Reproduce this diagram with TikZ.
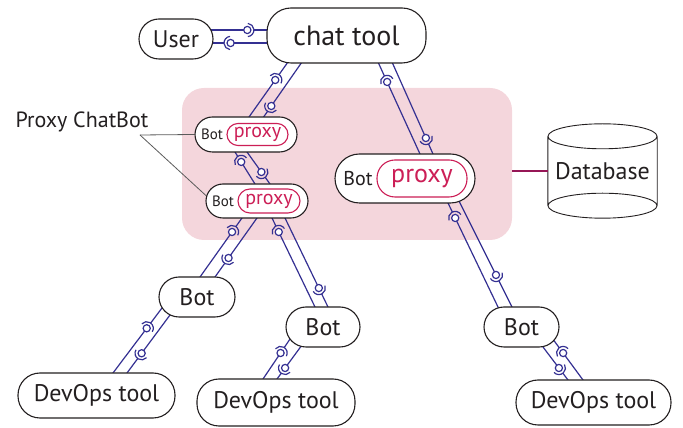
\documentclass[tikz,border=0pt]{standalone}
\usepackage{fontspec}
\setmainfont{PT Sans}
\usetikzlibrary{calc}

\definecolor{ink}{RGB}{35,31,32}
\definecolor{wirec}{RGB}{52,48,146}
\definecolor{zonepink}{RGB}{244,214,220}
\definecolor{proxyred}{RGB}{204,30,86}
\definecolor{dblink}{RGB}{150,22,86}
\definecolor{callout}{RGB}{90,90,90}

\pgfdeclarelayer{zone}
\pgfdeclarelayer{wires}
\pgfsetlayers{zone,wires,main}

\newcommand\ballr{3.6pt}
\newcommand\sockr{6.6pt}

% Ball-and-socket link: #1 socket end, #2 ball end,
% #3 position of the ball, measured from the socket end.
\newcommand\assembly[3]{%
  \coordinate (ws) at ($#1$);
  \coordinate (wb) at ($#2$);
  \coordinate (wc) at ($(ws)!#3!(wb)$);
  \draw[wire] ($(ws)!-4pt!(wb)$) -- ($(wc)!\sockr!(ws)$);
  \draw[wire] ($(wb)!-4pt!(ws)$) -- ($(wc)!\ballr!(wb)$);
  \draw[wire] let \p1=($(ws)-(wc)$), \n1={atan2(\y1,\x1)} in
    ([shift={(\n1-85:\sockr)}]wc) arc[start angle=\n1-85, end angle=\n1+85, radius=\sockr];
  \draw[wire, fill=white] (wc) circle[radius=\ballr];
}

\tikzset{
  box/.style={draw=ink, line width=1.1pt, fill=white, inner sep=0pt, text=ink,
    font=\fontsize{24}{28}\selectfont},
  pill/.style={box, rounded corners=#1},
  wire/.style={draw=wirec, line width=1.2pt},
  tag/.style={draw=proxyred, line width=1.1pt, text=proxyred, inner sep=0pt, rounded corners=#1},
  zonebox/.style={fill=zonepink, draw=none, rounded corners=22pt, minimum width=330pt, minimum height=152pt},
  lbl/.style={text=ink, inner sep=0pt},
}

\begin{document}
\begin{tikzpicture}[x=1pt, y=1pt]
\useasboundingbox (0,0) rectangle (683,428);

% shaded area holding the proxy bots
\begin{pgfonlayer}{zone}
  \node[zonebox] (zone) at (347,264) {};
\end{pgfonlayer}

% main nodes
\node[pill=20pt, minimum width=74pt, minimum height=40pt] (user) at (176,389) {User};
\node[pill=24pt, minimum width=159pt, minimum height=55pt, font=\fontsize{28}{32}\selectfont] (chat) at (346.5,392.5) {chat tool};

\node[pill=17.5pt, minimum width=102pt, minimum height=35pt] (prox1) at (246,293.5) {};
\node[lbl, font=\fontsize{15}{18}\selectfont] (prox1bot) at ($(prox1.center)+(-34,0)$) {Bot};
\node[tag=11pt, minimum width=61pt, minimum height=22pt, font=\fontsize{20}{24}\selectfont] (prox1tag) at ($(prox1.center)+(11.5,0)$) {proxy};

\node[pill=17pt, minimum width=102pt, minimum height=34pt] (prox2) at (257,227) {};
\node[lbl, font=\fontsize{15}{18}\selectfont] (prox2bot) at ($(prox2.center)+(-34,0)$) {Bot};
\node[tag=12pt, minimum width=62pt, minimum height=24pt, font=\fontsize{20}{24}\selectfont] (prox2tag) at ($(prox2.center)+(12,0)$) {proxy};

\node[pill=24.5pt, minimum width=140pt, minimum height=49pt] (prox3) at (405,249.5) {};
\node[lbl, font=\fontsize{20}{24}\selectfont] (prox3bot) at ($(prox3.center)+(-47,0)$) {Bot};
\node[tag=18pt, minimum width=90pt, minimum height=37pt, font=\fontsize{26}{30}\selectfont] (prox3tag) at ($(prox3.center)+(17,0)$) {proxy};

\node[pill=20pt, minimum width=76pt, minimum height=40pt] (botL) at (197,131) {Bot};
\node[pill=20pt, minimum width=74pt, minimum height=40pt] (botM) at (323,101) {Bot};
\node[pill=20pt, minimum width=75pt, minimum height=40pt] (botR) at (521.5,101) {Bot};

\node[pill=22pt, minimum width=157pt, minimum height=45pt] (devL) at (96.5,32.5) {DevOps tool};
\node[pill=22pt, minimum width=158pt, minimum height=47pt] (devM) at (276,25.5) {DevOps tool};
\node[pill=22pt, minimum width=155pt, minimum height=45pt] (devR) at (593.5,25.5) {DevOps tool};

% database cylinder
\node[lbl, minimum width=109pt, minimum height=94pt, font=\fontsize{24}{28}\selectfont] (db) at (602.5,257) {Database};
\draw[ink, line width=0.9pt]
  ($(db.north west)+(0,-12.5)$) -- ($(db.south west)+(0,12.5)$)
  ($(db.north east)+(0,-12.5)$) -- ($(db.south east)+(0,12.5)$)
  ($(db.north)+(0,-12.5)$) ellipse[x radius=54.5pt, y radius=12.5pt]
  ($(db.south)+(0,12.5)$) ellipse[x radius=54.5pt, y radius=12.5pt];
\draw[dblink, line width=1.5pt] (db.west) -- (db.west -| zone.east);

% callout
\node[lbl, font=\fontsize{22}{26}\selectfont] (callouttext) at (82,306) {Proxy ChatBot};
\coordinate (calloutfoot) at (140,293);

\begin{pgfonlayer}{wires}
  \draw[callout, line width=0.8pt] (calloutfoot) -- (prox1.west);
  \draw[callout, line width=0.8pt] (calloutfoot) -- ($(prox2.west)+(1,5)$);

  % user <-> chat tool
  \assembly{(chat.center)+(-78.5,5.5)}{(user.center)+(37,9)}{0.376}
  \assembly{(user.center)+(37,-4)}{(chat.center)+(-78.5,-7.5)}{0.32}
  % chat tool <-> upper proxy
  \assembly{(chat.center)+(-58.5,-26.5)}{(prox1.center)+(3,17.5)}{0.327}
  \assembly{(prox1.center)+(19,19.5)}{(chat.center)+(-44.5,-26.5)}{0.17}
  % upper proxy <-> lower proxy
  \assembly{(prox1.center)+(-11,-17.5)}{(prox2.center)+(-2,17)}{0.31}
  \assembly{(prox2.center)+(13,17)}{(prox1.center)+(1,-17.5)}{0.375}
  % lower proxy <-> left bot
  \assembly{(prox2.center)+(-15,-17)}{(botL.center)+(3,20)}{0.237}
  \assembly{(botL.center)+(18,20)}{(prox2.center)+(0,-17)}{0.322}
  % lower proxy <-> middle bot
  \assembly{(prox2.center)+(15,-17)}{(botM.center)+(-8,20)}{0.157}
  \assembly{(botM.center)+(5,20)}{(prox2.center)+(28,-17)}{0.213}
  % left bot <-> left tool
  \assembly{(botL.center)+(-35,-11)}{(devL.center)+(16.5,22.5)}{0.312}
  \assembly{(devL.center)+(30.5,22.5)}{(botL.center)+(-27,-18)}{0.34}
  % middle bot <-> middle tool
  \assembly{(botM.center)+(-35,-15)}{(devM.center)+(-13,23.5)}{0.297}
  \assembly{(devM.center)+(1,23.5)}{(botM.center)+(-21,-18)}{0.324}
  % chat tool <-> big proxy
  \assembly{(chat.center)+(31.5,-26.5)}{(prox3.center)+(15,24.5)}{0.217}
  \assembly{(prox3.center)+(28,24.5)}{(chat.center)+(45.5,-26.5)}{0.174}
  % big proxy <-> right bot
  \assembly{(prox3.center)+(43,-24.5)}{(botR.center)+(-23.5,20)}{0.144}
  \assembly{(botR.center)+(-9.5,20)}{(prox3.center)+(55,-24.5)}{0.308}
  % right bot <-> right tool
  \assembly{(devR.center)+(-25.5,22.5)}{(botR.center)+(21.5,-20)}{0.364}
  \assembly{(botR.center)+(33.5,-15)}{(devR.center)+(-10.5,22.5)}{0.29}
\end{pgfonlayer}
\end{tikzpicture}
\end{document}
